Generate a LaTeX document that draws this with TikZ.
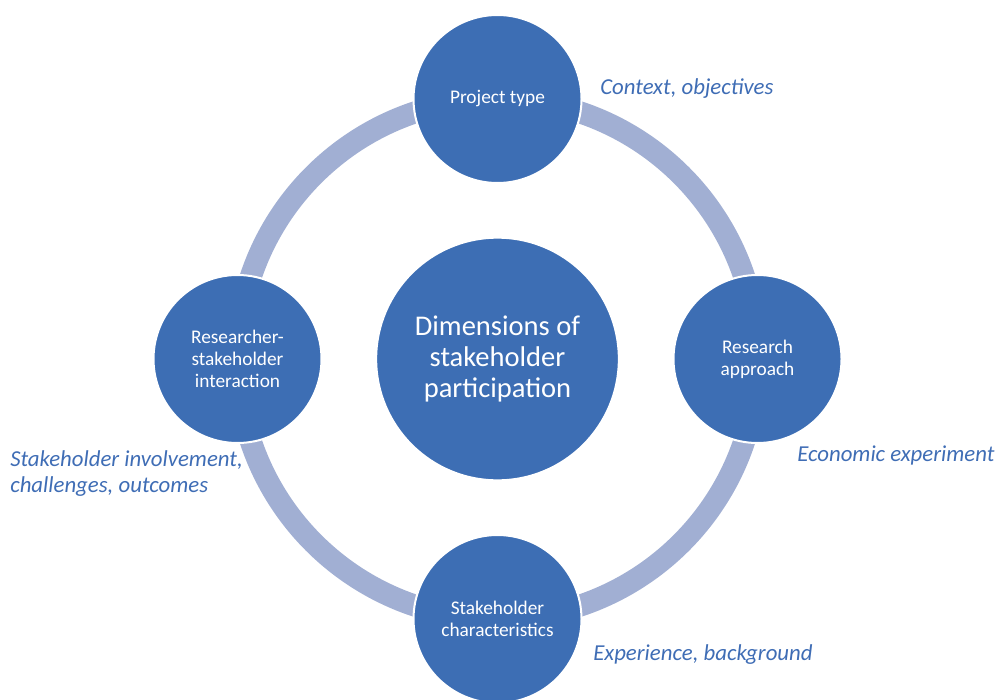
\documentclass[tikz,border=0pt]{standalone}
\usepackage{fontspec}
\setmainfont{Carlito}
\usepackage{tikz}
\usetikzlibrary{positioning}

\definecolor{dimblue}{RGB}{61,110,180}
\definecolor{ringblue}{RGB}{161,175,211}
\definecolor{notetext}{RGB}{63,109,181}

\tikzset{
  dimnode/.style={circle, fill=dimblue, draw=white, line width=1.5pt,
    minimum size=126pt, inner sep=0pt, text=white, align=center,
    font=\fontsize{14.5}{16.5}\selectfont},
  hubnode/.style={dimnode, minimum size=182pt,
    font=\fontsize{21.4}{23.6}\selectfont},
  ring/.style={draw=ringblue, line width=16.5pt},
  note/.style={text=notetext, inner sep=0pt, align=left,
    font=\fontsize{17.1}{19.5}\selectfont\itshape}
}

\begin{document}
\begin{tikzpicture}[x=0.75pt,y=0.75pt,yscale=-1,xscale=1]
\clip (0,0) rectangle (995,699);

% ring behind the four dimensions
\coordinate (hubc) at (497.5,359);
\draw[ring] (hubc) circle [radius=260];

% centre and the four dimensions
\node[hubnode] (hub) at (hubc) {Dimensions of\\stakeholder\\participation};
\node[dimnode] (ptype) at (497.5,99) {Project type};
\node[dimnode] (rappr) at (757.5,359) {Research\\approach};
\node[dimnode] (schar) at (497.5,619) {Stakeholder\\characteristics};
\node[dimnode] (rsint) at (237.5,359) {Researcher-\\stakeholder\\interaction};

% notes beside each dimension
\node[note, anchor=west] (nptype) at (600,89) {Context, objectives};
\node[note, anchor=west] (nrappr) at (797,455) {Economic experiment};
\node[note, anchor=west] (nschar) at (593,655) {Experience, background};
\node[note, anchor=west] (nrsint) at (10,474) {Stakeholder involvement,\\challenges, outcomes};

\end{tikzpicture}
\end{document}
